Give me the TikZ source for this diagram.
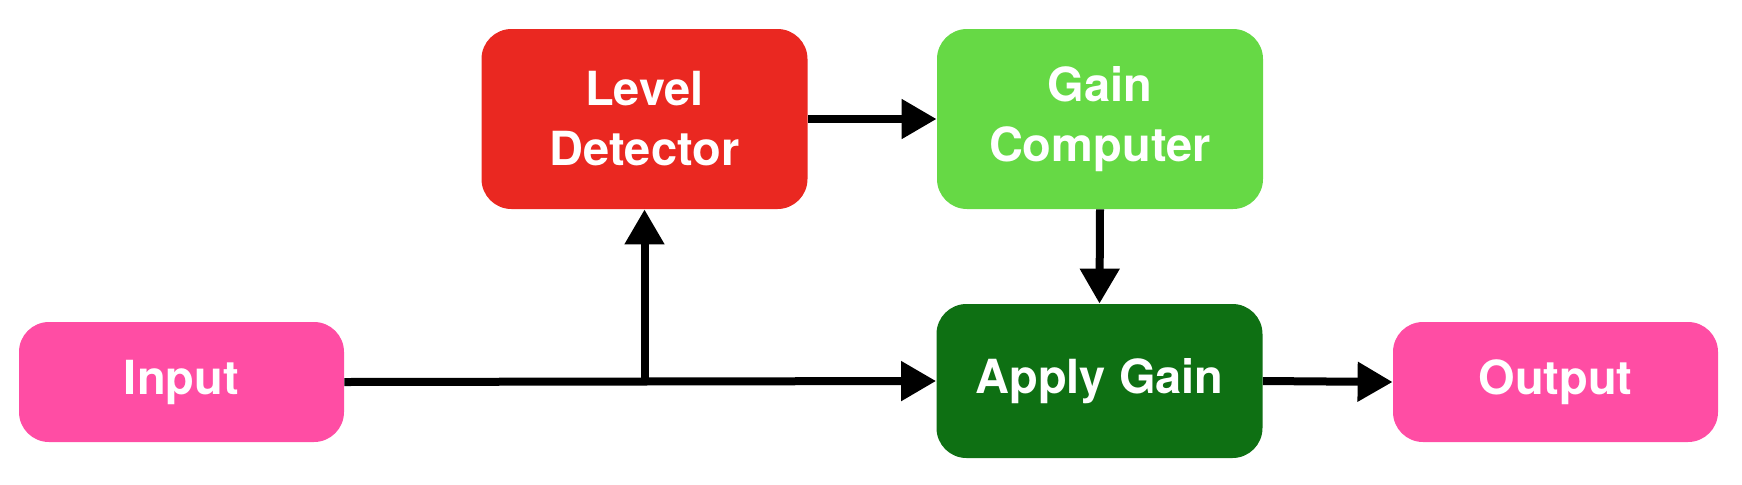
\documentclass[tikz,border=0pt]{standalone}
\usepackage{fontspec}
\setmainfont{TeX Gyre Heros}
\usetikzlibrary{arrows.meta,positioning}
\definecolor{iopink}{HTML}{FF4DA4}
\definecolor{detred}{HTML}{EA2821}
\definecolor{compgreen}{HTML}{66D945}
\definecolor{gaingreen}{HTML}{0E7013}
\tikzstyle{block}=[rectangle,rounded corners=15pt,text=white,inner sep=0pt,align=center,font=\bfseries\fontsize{23.5}{30}\selectfont]
\tikzstyle{iobox}=[block,fill=iopink,minimum width=162.5pt,minimum height=60pt]
\tikzstyle{procbox}=[block,minimum width=163pt,minimum height=90pt]
\tikzstyle{signal}=[draw,line width=4pt,-{Triangle[length=17.5pt,width=19pt]}]

\begin{document}
\begin{tikzpicture}[x=0.5pt,y=-0.5pt]
    \useasboundingbox (0,0) rectangle (1742,484);

    % blocks
    \node[iobox] (input) at (181.5,382) {Input};
    \node[procbox,fill=detred] (level) at (644.5,119) {Level\\Detector};
    \node[procbox,fill=compgreen] (computer) at (1100,119) {Gain\\Computer};
    \node[procbox,fill=gaingreen,minimum height=77pt] (apply) at (1099.5,381) {Apply Gain};
    \node[iobox] (output) at (1555.5,382) {Output};

    % signal path
    \coordinate (split) at (level.south |- input.east);
    \path[signal] (input.east) -- (apply.west);
    \path[signal] (split) -- (level.south);
    \path[signal] (level.east) -- (computer.west);
    \path[signal] (computer.south) -- (apply.north);
    \path[signal] (apply.east) -- (output.west);
\end{tikzpicture}
\end{document}
